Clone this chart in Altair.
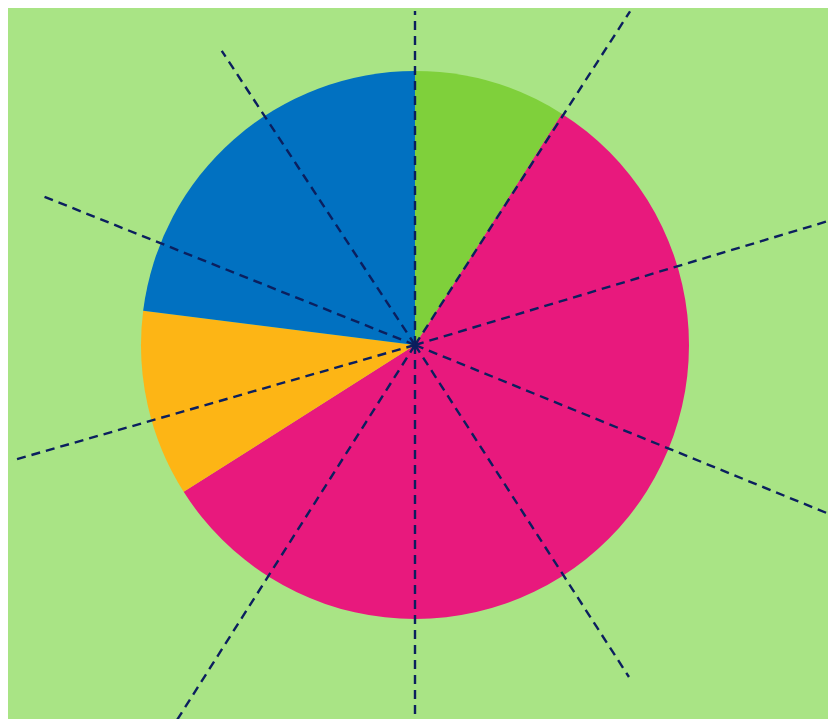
import altair as alt
import pandas as pd

# Pie slices (clockwise from 12 o'clock)
labels = ["Green", "Pink", "Yellow", "Blue"]
values = [9, 57, 11, 23]
colors = ["#7fd03b", "#e8197d", "#fdb515", "#0171c1"]

# Dashed rays from the centre: angle (deg, clockwise from north) and length
ray_angles = [0, 32.8, 73.3, 112.2, 147.2, 180, 212.4, 254.0, 291.8, 326.7]
ray_lengths = [334, 397, 470, 470, 395, 377, 446, 420, 404, 352]

W, H = 820, 711
CX, CY = 407, 337
R = 274

pie_df = pd.DataFrame({"label": labels, "value": values, "idx": list(range(len(labels)))})
ray_df = pd.DataFrame({"angle": ray_angles, "length": ray_lengths})

pie = alt.Chart(pie_df).mark_arc(outerRadius=R, stroke=None).encode(
    theta=alt.Theta("value:Q", stack=True),
    color=alt.Color("label:N", scale=alt.Scale(domain=labels, range=colors), legend=None),
    order=alt.Order("idx:Q"),
    x=alt.value(CX),
    y=alt.value(CY),
)

rays = alt.Chart(ray_df).transform_calculate(
    cx=f"{CX}",
    cy=f"{CY}",
    ex=f"{CX} + datum.length * sin(datum.angle * PI / 180)",
    ey=f"{CY} - datum.length * cos(datum.angle * PI / 180)",
).mark_rule(color="#0b1f5e", strokeWidth=2.4, strokeDash=[9, 6], strokeCap="butt").encode(
    x=alt.X("cx:Q", scale=None, axis=None),
    y=alt.Y("cy:Q", scale=None, axis=None),
    x2="ex:Q",
    y2="ey:Q",
)

chart = alt.layer(pie, rays).properties(
    width=W,
    height=H,
    autosize=alt.AutoSizeParams(type="none"),
    padding=0,
    background="#a9e485",
).configure_view(stroke=None)

chart.save("out.html", embed_options={"renderer": "svg", "actions": False})
